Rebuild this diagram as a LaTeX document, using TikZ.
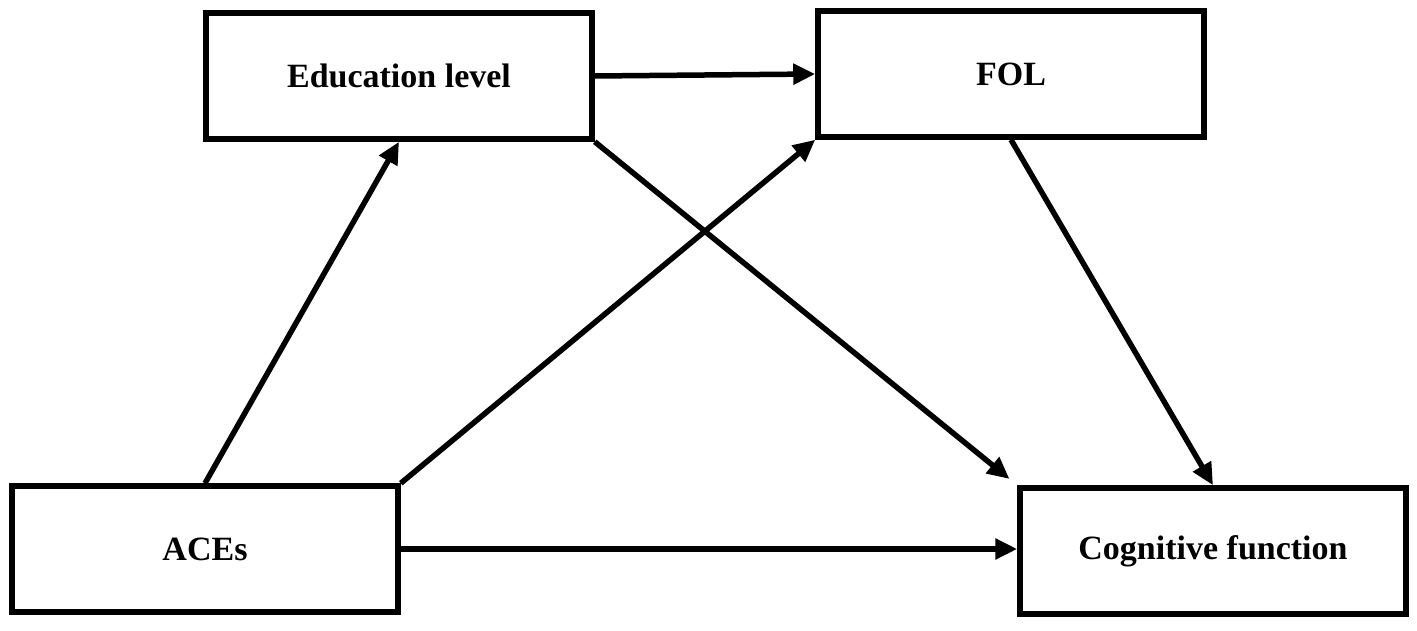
\documentclass[tikz,border=0pt]{standalone}
\usepackage{fontspec}
\setmainfont{Liberation Serif}
\usetikzlibrary{arrows.meta}
\begin{document}
\begin{tikzpicture}[x=1pt,y=1pt,
  box/.style={draw,line width=5.5pt,minimum width=386pt,minimum height=126pt,font=\fontsize{34}{38}\selectfont\bfseries},
  arr/.style={line width=5.5pt,-{Triangle[length=22pt,width=20pt]}}]
\useasboundingbox[fill=white] (0,0) rectangle (1417,630);
\node[box] (edu) at (399,554) {Education level};
\node[box] (fol) at (1011,556) {FOL};
\node[box] (aces) at (205,81) {ACEs};
\node[box] (cog) at (1213,79) {Cognitive function};
\draw[arr] (edu.east) -- (fol.west);
\draw[arr] (aces.north) -- (edu.south);
\draw[arr] (aces.north east) -- (fol.south west);
\draw[arr,shorten >=10pt] (edu.south east) -- (cog.north west);
\draw[arr] (fol.south) -- (cog.north);
\draw[arr] (aces.east) -- (cog.west |- aces.east);
\end{tikzpicture}
\end{document}
